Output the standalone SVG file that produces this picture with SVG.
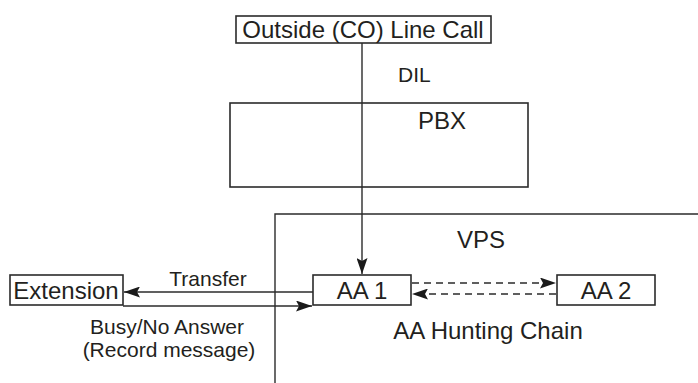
<svg xmlns="http://www.w3.org/2000/svg" width="698" height="383" viewBox="0 0 698 383">
<defs>
<style>
.box{fill:#fff;stroke:#2b2b2b;stroke-width:1.6}
.ln{fill:none;stroke:#2b2b2b;stroke-width:1.4}
.dash{fill:none;stroke:#2b2b2b;stroke-width:1.4;stroke-dasharray:7 5}
text{font-family:"Liberation Sans",Arial,sans-serif;fill:#231f20}
.t{font-size:24px}
.s{font-size:21px}
</style>
<marker id="ah" viewBox="0 0 16 11" refX="16" refY="5.5" markerWidth="16" markerHeight="11" markerUnits="userSpaceOnUse" orient="auto">
<path d="M0,0 L16,5.5 L0,11 L3,5.5 Z" fill="#1a1a1a"/>
</marker>
</defs>
<rect width="698" height="383" fill="#fff"/>
<g id="vps">
<path class="ln" d="M698,214 H275 V383"/>
<text class="t" x="481" y="248" text-anchor="middle">VPS</text>
</g>
<g id="pbx">
<rect class="box" x="230" y="103" width="298" height="84"/>
<text class="t" x="442" y="129" text-anchor="middle">PBX</text>
</g>
<g id="connectors">
<line class="ln" x1="362" y1="43" x2="362" y2="274" marker-end="url(#ah)"/>
<line class="ln" x1="313" y1="292" x2="124" y2="292" marker-end="url(#ah)"/>
<line class="ln" x1="123" y1="306" x2="312" y2="306" marker-end="url(#ah)"/>
<line class="dash" x1="412" y1="283" x2="556" y2="283" marker-end="url(#ah)"/>
<line class="dash" x1="556" y1="294" x2="412" y2="294" marker-end="url(#ah)"/>
<text class="s" x="398" y="82">DIL</text>
<text class="s" x="208" y="286" text-anchor="middle">Transfer</text>
<text class="s" x="167" y="334" text-anchor="middle">Busy/No Answer</text>
<text class="s" x="169" y="357" text-anchor="middle">(Record message)</text>
</g>
<g id="outside">
<rect class="box" x="236" y="16" width="255" height="27"/>
<text class="t" x="363" y="38" text-anchor="middle">Outside (CO) Line Call</text>
</g>
<g id="aa1">
<rect class="box" x="313" y="275" width="98" height="30"/>
<text class="t" x="362" y="299" text-anchor="middle">AA 1</text>
</g>
<g id="aa2">
<rect class="box" x="557" y="275" width="98" height="30"/>
<text class="t" x="606" y="299" text-anchor="middle">AA 2</text>
</g>
<g id="extension">
<rect class="box" x="10" y="275" width="113" height="30"/>
<text class="t" x="66" y="299" text-anchor="middle">Extension</text>
</g>
<g id="chain">
<text class="t" x="488" y="339" text-anchor="middle">AA Hunting Chain</text>
</g>
</svg>
